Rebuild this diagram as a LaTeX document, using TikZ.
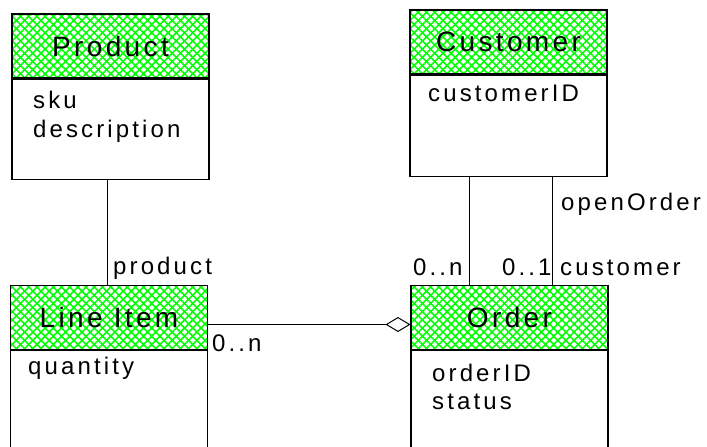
\documentclass[tikz,border=0pt]{standalone}
\usepackage{fontspec}
\setmainfont{Liberation Sans}
\newfontfamily\attrfont{Liberation Sans}[LetterSpace=13]
\newfontfamily\titlefont{Liberation Sans}[LetterSpace=12]
\usetikzlibrary{arrows.meta,patterns.meta,positioning}
\definecolor{hatchgreen}{RGB}{0,255,0}

\begin{document}
\begin{tikzpicture}[x=1pt,y=-1pt,
  titlebox/.style={draw,line width=1.1pt,minimum width=197pt,minimum height=64pt,inner sep=0pt,
    preaction={fill=white},
    preaction={pattern={Lines[angle=45,distance=5.8pt,line width=1.6pt]},pattern color=hatchgreen},
    pattern={Lines[angle=-45,distance=5.8pt,line width=1.6pt]},pattern color=hatchgreen,
    font=\titlefont\fontsize{28}{32}\selectfont},
  bodybox/.style={draw,line width=1.1pt,fill=white,minimum width=197pt,inner sep=0pt,anchor=north},
  attr/.style={anchor=base west,inner sep=0pt,font=\attrfont\fontsize{24}{28}\selectfont},
  role/.style={attr}]
\useasboundingbox (0,0) rectangle (707,447);
%Product class
\node[titlebox] (product) at (110.5,46) {Product};
\node[bodybox,minimum height=100pt] (productbody) at (product.south) {};
\node[attr] (sku) at (33,108) {sku};
\node[attr] (descr) at (33,137.5) {description};
%Customer class
\node[titlebox] (customer) at (508.5,42) {Customer};
\node[bodybox,minimum height=101pt] (custbody) at (customer.south) {};
\node[attr] (custid) at (428,101) {customerID};
%Line Item class
\node[titlebox] (item) at (109,317.5) {Line Item};
\node[bodybox,minimum height=120pt] (itembody) at (item.south) {};
\node[attr] (qty) at (28,374) {quantity};
%Order class
\node[titlebox] (order) at (509.5,317.5) {Order};
\node[bodybox,minimum height=120pt] (orderbody) at (order.south) {};
\node[attr] (orderid) at (432,381) {orderID};
\node[attr] (status) at (432,409) {status};
%associations
\draw[line width=1pt] ([xshift=-3pt]productbody.south) -- ([xshift=-3pt]productbody.south |- item.north);
\node[role] (prodrole) at (113,274) {product};
\draw[line width=1pt] ([xshift=-39.5pt]custbody.south) -- ([xshift=-39.5pt]custbody.south |- order.north);
\draw[line width=1pt] ([xshift=43.5pt]custbody.south) -- ([xshift=43.5pt]custbody.south |- order.north);
\node[role] (ordmult) at (413,275) {0..n};
\node[role] (custmult) at (502,275) {0..1};
\node[role] (custrole) at (560,275) {customer};
\node[role] (openrole) at (561,210) {openOrder};
%aggregation
\draw[line width=1pt,-{Diamond[open,fill=white,length=25pt,width=15pt]}] ([yshift=-7pt]item.east) -- ([yshift=-7pt]order.west);
\node[role] (itemmult) at (212,351) {0..n};
\end{tikzpicture}
\end{document}
